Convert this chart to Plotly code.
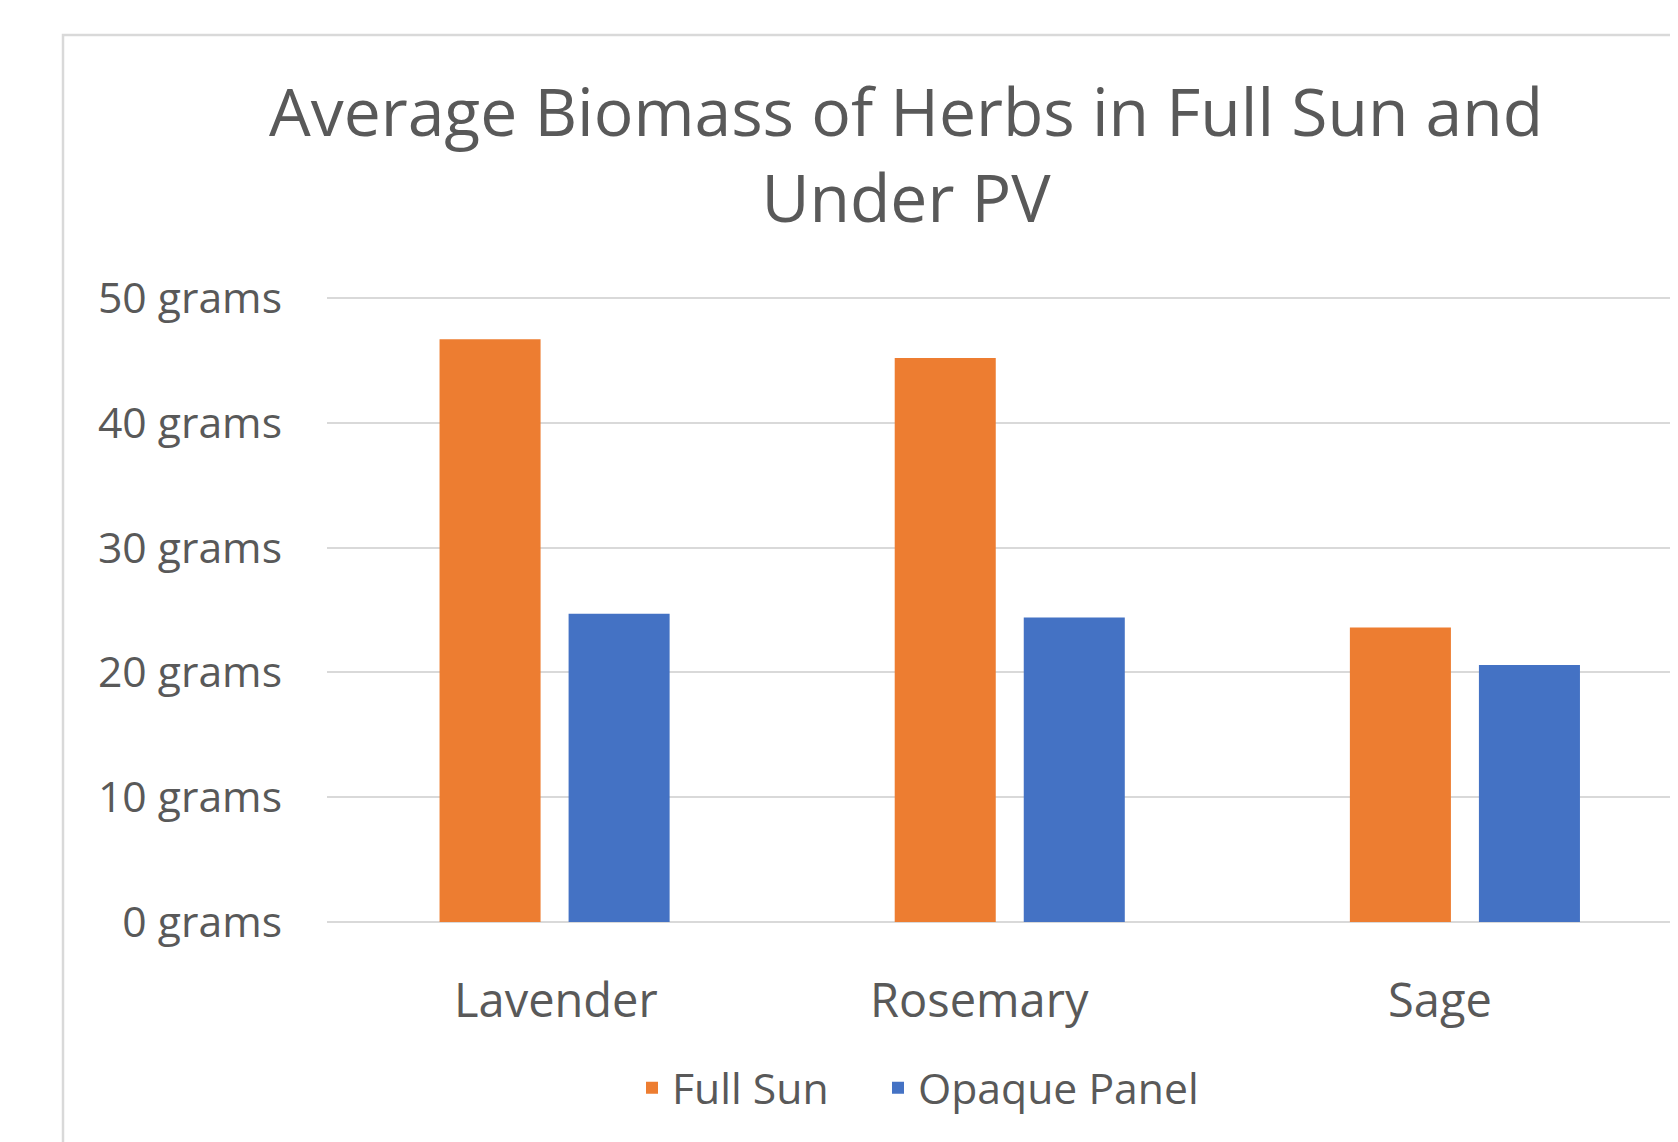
import plotly.graph_objects as go

categories = ["Lavender", "Rosemary", "Sage"]
full_sun = [46.7, 45.2, 23.6]
opaque_panel = [24.7, 24.4, 20.6]
series_names = ["Full Sun", "Opaque Panel"]
y_ticks = [0, 10, 20, 30, 40, 50]
y_tick_labels = [f"{v} grams" for v in y_ticks]

# style: horizontal nudges of the category labels (px), as in the original
label_nudge = [1, -30, -25]

W, H = 1678, 1142
OFF = 8  # page body margin offset in the browser
Y_MAX = 50.4
UNIT = 12.48  # px per gram
PLOT_BOTTOM_PAGE = 922
PLOT_LEFT_PAGE = 327
ph = Y_MAX * UNIT
PL = PLOT_LEFT_PAGE - OFF
PR = OFF
PB = H - (PLOT_BOTTOM_PAGE - OFF)
PT = H - PB - ph
pw = W - PL - PR

FONT = "Open Sans"
TXT = "#595959"
GRID = "#D9D9D9"

fig = go.Figure()
fig.add_trace(go.Bar(x=categories, y=full_sun, name=series_names[0], legend="legend",
                     marker=dict(color="#ED7D31", line=dict(width=0))))
fig.add_trace(go.Bar(x=categories, y=opaque_panel, name=series_names[1], legend="legend2",
                     marker=dict(color="#4472C4", line=dict(width=0))))

def px_x(page_x):
    return (page_x - OFF - PL) / pw

def px_y(page_y):
    return (H - PB - (page_y - OFF)) / ph

legend_common = dict(orientation="h", xanchor="left", yanchor="middle",
                     y=px_y(1088), font=dict(family=FONT, size=42.7, color=TXT),
                     bgcolor="rgba(0,0,0,0)")

annotations = [
    dict(x=c, y=0, xref="x", yref="y", text=c, showarrow=False,
         xanchor="center", yanchor="middle", xshift=s, yshift=-77,
         font=dict(family=FONT, size=47, color=TXT))
    for c, s in zip(categories, label_nudge)
]

fig.update_layout(
    width=W, height=H,
    margin=dict(l=PL, r=PR, t=PT, b=PB, pad=0, autoexpand=False),
    paper_bgcolor="white", plot_bgcolor="white",
    barmode="group", bargap=0.433, bargroupgap=0.217,
    font=dict(family=FONT, color=TXT),
    title=dict(text="Average Biomass of Herbs in Full Sun and<br>Under PV",
               font=dict(family=FONT, size=66, color=TXT),
               xref="paper", x=px_x(906), xanchor="center",
               yref="container", y=1 - 128 / H, yanchor="top"),
    xaxis=dict(range=[-0.5, 2.5 - 14.5 / 455], showgrid=False, showline=False,
               zeroline=False, ticks="", showticklabels=False, automargin=False),
    yaxis=dict(range=[0, Y_MAX], tickvals=y_ticks, ticktext=y_tick_labels,
               showgrid=True, gridcolor=GRID, gridwidth=2, zeroline=True,
               zerolinecolor=GRID, zerolinewidth=2, showline=False, ticks="",
               tickfont=dict(family=FONT, size=42.7, color=TXT), ticklabelstandoff=44,
               automargin=False),
    legend=dict(x=px_x(632), **legend_common),
    legend2=dict(x=px_x(878), **legend_common),
    showlegend=True,
    annotations=annotations,
    shapes=[dict(type="rect", xref="paper", yref="paper",
                 x0=px_x(63), x1=px_x(W + 60), y0=px_y(H + 60), y1=px_y(35),
                 line=dict(color=GRID, width=2.5), fillcolor="rgba(0,0,0,0)",
                 layer="below")],
)

fig.write_html("out.html")
